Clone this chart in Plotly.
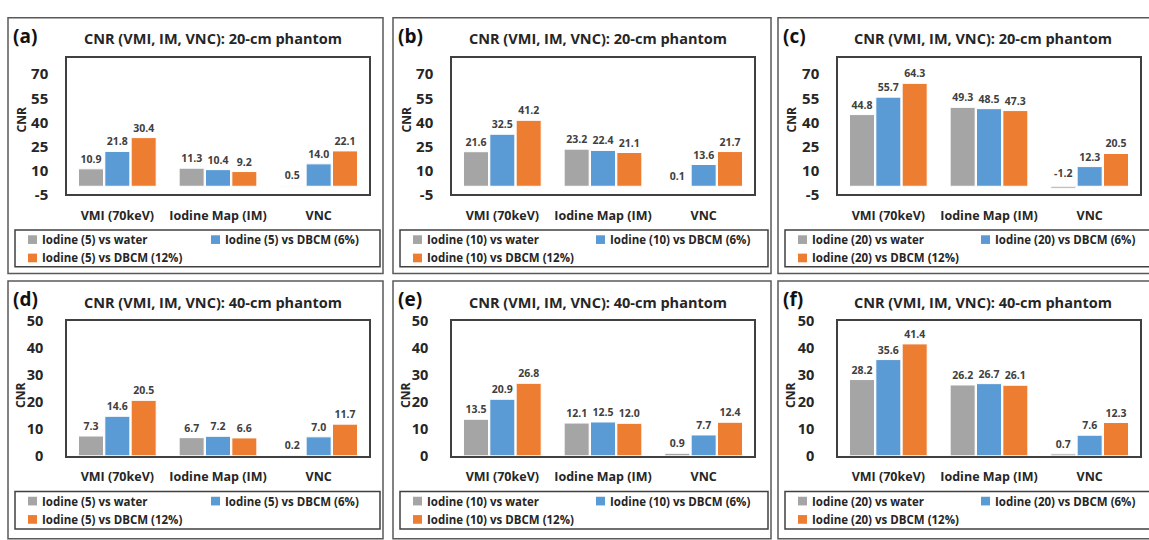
import plotly.graph_objects as go

# ---- data -------------------------------------------------------------
categories = ["VMI (70keV)", "Iodine Map (IM)", "VNC"]
panel_tags = ["(a)", "(b)", "(c)", "(d)", "(e)", "(f)"]
phantoms = ["20-cm", "20-cm", "20-cm", "40-cm", "40-cm", "40-cm"]
iodine_conc = [5, 10, 20, 5, 10, 20]
series_templates = ["Iodine ({c}) vs water", "Iodine ({c}) vs DBCM (6%)", "Iodine ({c}) vs DBCM (12%)"]
series_colors = ["#A5A5A5", "#5B9BD5", "#ED7D31"]

a_water = [10.9, 11.3, 0.5]
a_dbcm6 = [21.8, 10.4, 14.0]
a_dbcm12 = [30.4, 9.2, 22.1]

b_water = [21.6, 23.2, 0.1]
b_dbcm6 = [32.5, 22.4, 13.6]
b_dbcm12 = [41.2, 21.1, 21.7]

c_water = [44.8, 49.3, -1.2]
c_dbcm6 = [55.7, 48.5, 12.3]
c_dbcm12 = [64.3, 47.3, 20.5]

d_water = [7.3, 6.7, 0.2]
d_dbcm6 = [14.6, 7.2, 7.0]
d_dbcm12 = [20.5, 6.6, 11.7]

e_water = [13.5, 12.1, 0.9]
e_dbcm6 = [20.9, 12.5, 7.7]
e_dbcm12 = [26.8, 12.0, 12.4]

f_water = [28.2, 26.2, 0.7]
f_dbcm6 = [35.6, 26.7, 7.6]
f_dbcm12 = [41.4, 26.1, 12.3]

panel_series = [
    [a_water, a_dbcm6, a_dbcm12],
    [b_water, b_dbcm6, b_dbcm12],
    [c_water, c_dbcm6, c_dbcm12],
    [d_water, d_dbcm6, d_dbcm12],
    [e_water, e_dbcm6, e_dbcm12],
    [f_water, f_dbcm6, f_dbcm12],
]

top_ticks = [-5, 10, 25, 40, 55, 70]
top_range = [-5, 80]
bottom_ticks = [0, 10, 20, 30, 40, 50]
bottom_range = [0, 50]

# ---- layout geometry (pixels) ------------------------------------------
W, H = 1149, 540
FONT = "Open Sans"
TXT = "#262626"
LINE = "#404040"
BORDER = "#595959"

col_left = [8, 393, 778]
col_right = [383, 771, 1162]
row_top = [8, 281]
row_bottom = [273, 548]
plot_x = [(67, 369), (452, 754), (838, 1140)]
plot_y = [(50, 191), (322, 462)]
legend_y = [(228, 266), (499, 538)]

BARGAP = 0.215
GROUPGAP = 0.05


def fx(x):
    return x / W


def fy(y):
    return 1 - y / H


fig = go.Figure()
shapes = []
annotations = []
layout_axes = {}

for p in range(6):
    r, c = divmod(p, 3)
    n = p + 1
    xa = "x" if n == 1 else f"x{n}"
    ya = "y" if n == 1 else f"y{n}"
    xkey = "xaxis" if n == 1 else f"xaxis{n}"
    ykey = "yaxis" if n == 1 else f"yaxis{n}"

    x0, x1 = plot_x[c]
    y0, y1 = plot_y[r]
    ticks = top_ticks if r == 0 else bottom_ticks
    rng = top_range if r == 0 else bottom_range

    layout_axes[xkey] = dict(
        domain=[fx(x0), fx(x1)], anchor=ya, type="category",
        showline=True, mirror=True, linecolor=LINE, linewidth=1.5,
        ticks="", showgrid=False, ticklabelstandoff=9,
        tickfont=dict(family=FONT, size=12.5, color=TXT, weight="bold"),
        fixedrange=True,
    )
    layout_axes[ykey] = dict(
        domain=[fy(y1), fy(y0)], anchor=xa, range=rng,
        tickvals=ticks, ticktext=[str(t) for t in ticks],
        showline=True, mirror=True, linecolor=LINE, linewidth=1.5,
        ticks="", showgrid=False, zeroline=False,
        ticklabelstandoff=14 if r == 0 else 19,
        tickfont=dict(family=FONT, size=15 if r == 0 else 14.5, color=TXT, weight="bold"),
        fixedrange=True,
    )

    for s, vals in enumerate(panel_series[p]):
        positions = ["outside" if v >= 0 else "none" for v in vals]
        fig.add_trace(go.Bar(
            x=categories, y=vals, xaxis=xa, yaxis=ya,
            name=series_templates[s].format(c=iodine_conc[p]),
            marker=dict(color=series_colors[s], line=dict(color="white", width=1)),
            texttemplate="%{y:.1f}", textposition=positions,
            textfont=dict(family=FONT, size=10.5, color=LINE, weight="bold"),
            cliponaxis=False, showlegend=False,
        ))
        # negative values: label sits above the zero line
        slot = (1 - BARGAP) / 3
        for k, v in enumerate(vals):
            if v < 0:
                annotations.append(dict(
                    x=k + (s - 1) * slot, y=0, xref=xa, yref=ya,
                    text=f"{v:.1f}", showarrow=False, yanchor="bottom", yshift=4,
                    font=dict(family=FONT, size=10.5, color=LINE, weight="bold"),
                ))

    # panel frame
    shapes.append(dict(type="rect", xref="paper", yref="paper",
                       x0=fx(col_left[c]), x1=fx(col_right[c]),
                       y0=fy(row_bottom[r]), y1=fy(row_top[r]),
                       line=dict(color=BORDER, width=1.5)))

    # panel tag and title
    annotations.append(dict(x=fx(col_left[c] + 3), y=fy(row_top[r] + 19), xref="paper", yref="paper",
                            text=panel_tags[p], showarrow=False, xanchor="left", yanchor="middle",
                            font=dict(family=FONT, size=19, color="#111111", weight="bold")))
    annotations.append(dict(x=fx(col_left[c] + 205), y=fy(row_top[r] + 22), xref="paper", yref="paper",
                            text=f"CNR (VMI, IM, VNC): {phantoms[p]} phantom", showarrow=False,
                            xanchor="center", yanchor="middle",
                            font=dict(family=FONT, size=14.5, color=TXT, weight="bold")))
    # y-axis title
    annotations.append(dict(x=fx(col_left[c] + 13), y=fy((y0 + y1) / 2 + (-6 if r == 0 else 8)),
                            xref="paper", yref="paper",
                            text="CNR", showarrow=False, textangle=-90,
                            xanchor="center", yanchor="middle",
                            font=dict(family=FONT, size=12, color=TXT, weight="bold")))

    # legend box
    ly0, ly1 = legend_y[r]
    shapes.append(dict(type="rect", xref="paper", yref="paper",
                       x0=fx(col_left[c] + 7), x1=fx(col_right[c] - 3),
                       y0=fy(ly1), y1=fy(ly0),
                       line=dict(color=LINE, width=1.5)))
    entry_pos = [(col_left[c] + 20, ly0 + 10), (col_left[c] + 203, ly0 + 10), (col_left[c] + 20, ly0 + 29)]
    for s, (ex, ey) in enumerate(entry_pos):
        shapes.append(dict(type="rect", xref="paper", yref="paper",
                           x0=fx(ex), x1=fx(ex + 9), y0=fy(ey + 4.5), y1=fy(ey - 4.5),
                           fillcolor=series_colors[s], line=dict(width=0)))
        annotations.append(dict(x=fx(ex + 12), y=fy(ey), xref="paper", yref="paper",
                                text=series_templates[s].format(c=iodine_conc[p]),
                                showarrow=False, xanchor="left", yanchor="middle",
                                font=dict(family=FONT, size=11.5, color=TXT, weight="bold")))

fig.update_layout(
    width=W, height=H, margin=dict(l=0, r=0, t=0, b=0),
    paper_bgcolor="white", plot_bgcolor="white",
    barmode="group", bargap=BARGAP, bargroupgap=GROUPGAP,
    shapes=shapes, annotations=annotations,
    **layout_axes,
)

fig.write_html("out.html")
